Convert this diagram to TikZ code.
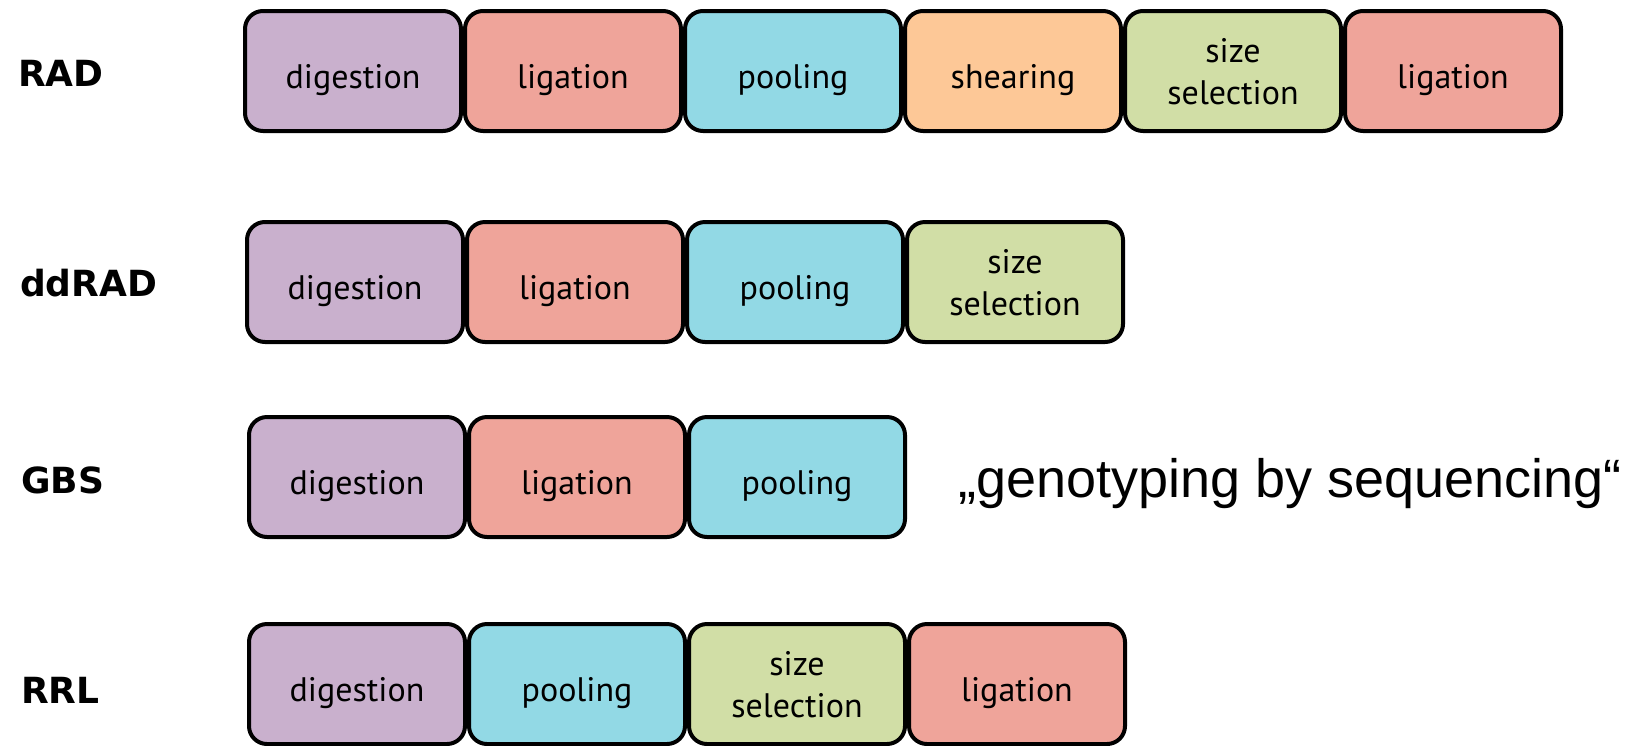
\documentclass[tikz,border=0pt]{standalone}
\usepackage{fontspec}
\setmainfont{PT Sans}
\newfontfamily\methodfont{DejaVu Sans}
\newfontfamily\quotefont{Liberation Sans}
\usetikzlibrary{positioning}
\definecolor{digestc}{RGB}{201,176,205}
\definecolor{ligatec}{RGB}{239,164,154}
\definecolor{poolc}{RGB}{146,217,229}
\definecolor{shearc}{RGB}{253,200,151}
\definecolor{sizec}{RGB}{209,222,166}

\begin{document}
\begin{tikzpicture}[
  node distance=0pt,
  stage/.style={
    draw=black, line width=2pt, rounded corners=9pt, outer sep=1pt,
    minimum width=108pt, minimum height=60pt, inner sep=0pt, align=center,
    text height=17pt, text depth=0pt,
    font=\fontsize{17}{21}\selectfont
  },
  digest/.style={stage, fill=digestc},
  ligate/.style={stage, fill=ligatec},
  pool/.style={stage, fill=poolc},
  shear/.style={stage, fill=shearc},
  sizesel/.style={stage, fill=sizec, text height=, text depth=-4.5pt},
  method/.style={anchor=west, font=\methodfont\bfseries\fontsize{18}{21}\selectfont}
]
\useasboundingbox (0,0) rectangle (818.5pt,-372.5pt);

% ---- RAD
\node[method] (rad) at (5.5pt,-36.5pt) {RAD};
\node[digest]  (rad1) at (176.5pt,-35.5pt) {digestion};
\node[ligate]  (rad2) [right=of rad1] {ligation};
\node[pool]    (rad3) [right=of rad2] {pooling};
\node[shear]   (rad4) [right=of rad3] {shearing};
\node[sizesel] (rad5) [right=of rad4] {size\\selection};
\node[ligate]  (rad6) [right=of rad5] {ligation};

% ---- ddRAD
\node[method] (ddrad) at (6.5pt,-141.5pt) {ddRAD};
\node[digest]  (dd1) at (177.5pt,-141pt) {digestion};
\node[ligate]  (dd2) [right=of dd1] {ligation};
\node[pool]    (dd3) [right=of dd2] {pooling};
\node[sizesel] (dd4) [right=of dd3] {size\\selection};

% ---- GBS
\node[method] (gbs) at (7pt,-240pt) {GBS};
\node[digest]  (gbs1) at (178.5pt,-238.5pt) {digestion};
\node[ligate]  (gbs2) [right=of gbs1] {ligation};
\node[pool]    (gbs3) [right=of gbs2] {pooling};
\node[anchor=west, inner sep=0pt, font=\quotefont\fontsize{27}{32}\selectfont]
  (gbsname) at (479pt,-242pt) {„genotyping by sequencing“};

% ---- RRL
\node[method] (rrl) at (7pt,-345pt) {RRL};
\node[digest]  (rrl1) at (178.5pt,-342pt) {digestion};
\node[pool]    (rrl2) [right=of rrl1] {pooling};
\node[sizesel] (rrl3) [right=of rrl2] {size\\selection};
\node[ligate]  (rrl4) [right=of rrl3] {ligation};

\end{tikzpicture}
\end{document}
